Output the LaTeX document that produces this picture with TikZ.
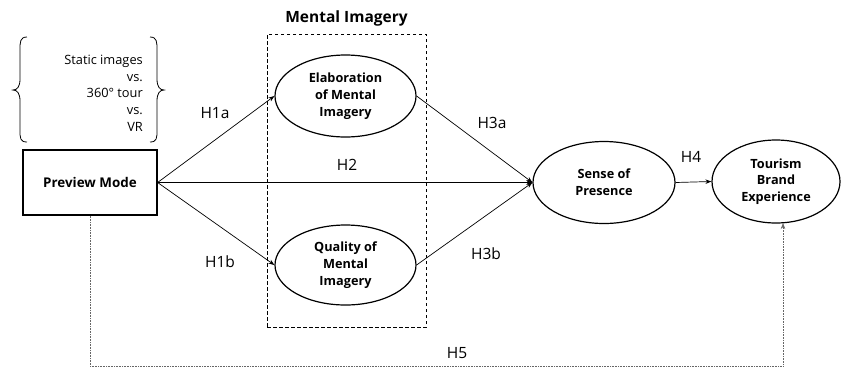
\documentclass[tikz,border=0pt]{standalone}
\usepackage{fontspec}
\setmainfont{Open Sans}
\usetikzlibrary{shapes.geometric,arrows.meta}
\tikzset{
  construct/.style={draw, ellipse, line width=1.2pt, align=center, inner sep=0pt,
    font=\fontsize{12.7}{16.7}\selectfont\bfseries},
  arr/.style={-{Stealth[length=6pt,width=4.5pt]}, line width=0.7pt},
  hlabel/.style={font=\fontsize{15.5}{18}\selectfont},
}
\begin{document}
\begin{tikzpicture}[x=1pt,y=-1pt]
\useasboundingbox (0,0) rectangle (842,376);
% braces
\draw[line width=0.8pt] (27,37) .. controls (20,37) and (20,42) .. (20,50) -- (20,79)
  .. controls (20,87) and (17,90) .. (13,90) .. controls (17,90) and (20,93) .. (20,101)
  -- (20,130) .. controls (20,138) and (20,142) .. (27,142);
\draw[line width=0.8pt] (150,37) .. controls (157,37) and (157,42) .. (157,50) -- (157,79)
  .. controls (157,87) and (160,90) .. (164,90) .. controls (160,90) and (157,93) .. (157,101)
  -- (157,130) .. controls (157,138) and (157,142) .. (150,142);
\node[align=right, anchor=east, inner sep=0pt, font=\fontsize{12.8}{16.7}\selectfont] (modes) at (143,93)
  {Static images\\vs.\\360° tour\\vs.\\VR};
% preview mode
\node[draw, line width=1.2pt, minimum width=134pt, minimum height=65pt,
  font=\fontsize{13.4}{15}\selectfont\bfseries] (prev) at (90,182.5) {Preview Mode};
% mental imagery box
\node[font=\fontsize{15.5}{17}\selectfont\bfseries] (mititle) at (346.5,18) {Mental Imagery};
\node[draw, dashed, line width=0.8pt, dash pattern=on 3.5pt off 2.5pt,
  minimum width=159pt, minimum height=293pt] (mibox) at (346.5,180.5) {};
% constructs
\node[construct, minimum width=141pt, minimum height=82pt] (elab) at (345.5,96) {Elaboration\\of Mental\\Imagery};
\node[construct, minimum width=141pt, minimum height=80pt] (qual) at (345.5,265) {Quality of\\Mental\\Imagery};
\node[construct, minimum width=142pt, minimum height=82pt] (sop) at (604,182.5) {Sense of\\Presence};
\node[construct, minimum width=128pt, minimum height=83pt] (tbe) at (776,181.5) {Tourism\\Brand\\Experience};
% paths
\draw[arr] (prev.east) -- (elab.west);
\draw[arr] (prev.east) -- (qual.west);
\draw[arr] (prev.east) -- (sop.west);
\draw[arr] (elab.east) -- (sop.west);
\draw[arr] (qual.east) -- (sop.west);
\draw[arr] (sop.east) -- (tbe.west);
\coordinate (h5y) at (0,366);
\coordinate (h5end) at (783,223);
\draw[densely dotted, gray!80!black, line width=0.6pt, -{Stealth[length=6pt,width=4.5pt]}]
  (prev.south) -- (prev.south |- h5y) -| (h5end);
% labels
\node[hlabel] (l1a) at (215,113) {H1a};
\node[hlabel] (l1b) at (220,262) {H1b};
\node[hlabel] (l2) at (347,165) {H2};
\node[hlabel] (l3a) at (492,123) {H3a};
\node[hlabel] (l3b) at (486,254) {H3b};
\node[hlabel] (l4) at (691,157) {H4};
\node[hlabel] (l5) at (457,353) {H5};
\end{tikzpicture}
\end{document}
